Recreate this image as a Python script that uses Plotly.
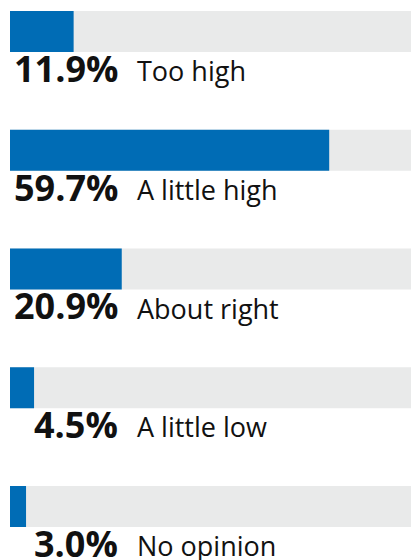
import plotly.graph_objects as go

# Survey responses
categories = ["Too high", "A little high", "About right", "A little low", "No opinion"]
shares = [11.9, 59.7, 20.9, 4.5, 3.0]
pct_labels = ["11.9%", "59.7%", "20.9%", "4.5%", "3.0%"]

SCALE_MAX = 75  # value at the right end of the grey track
BLUE = "#006cb5"
TRACK = "#e9eaea"
INK = "#111111"

rows = list(range(len(categories)))

fig = go.Figure()
fig.add_trace(go.Bar(
    y=rows, x=[SCALE_MAX] * len(rows), orientation="h",
    marker=dict(color=TRACK, line=dict(width=0)), width=0.345,
    hoverinfo="skip", showlegend=False,
))
fig.add_trace(go.Bar(
    y=rows, x=shares, orientation="h",
    marker=dict(color=BLUE, line=dict(width=0)), width=0.345,
    customdata=categories, hovertemplate="%{customdata}: %{x}%<extra></extra>",
    showlegend=False,
))

annotations = []
for i, (cat, lab) in enumerate(zip(categories, pct_labels)):
    annotations.append(dict(
        x=0.274, xref="paper", y=i + 0.31, yref="y",
        text=f"<b>{lab}</b>", showarrow=False,
        xanchor="right", yanchor="middle",
        font=dict(family="Open Sans", size=36, color=INK),
    ))
    annotations.append(dict(
        x=0.312, xref="paper", y=i + 0.33, yref="y",
        text=cat, showarrow=False,
        xanchor="left", yanchor="middle",
        font=dict(family="Open Sans", size=27, color=INK),
    ))

fig.update_layout(
    width=411, height=560,
    margin=dict(l=10, r=0, t=0, b=0),
    paper_bgcolor="white", plot_bgcolor="white",
    barmode="overlay",
    xaxis=dict(range=[0, SCALE_MAX], visible=False, fixedrange=True),
    yaxis=dict(range=[4.4505, -0.2653], visible=False, fixedrange=True),
    annotations=annotations,
)

fig.write_html("out.html", config={"displayModeBar": False})
